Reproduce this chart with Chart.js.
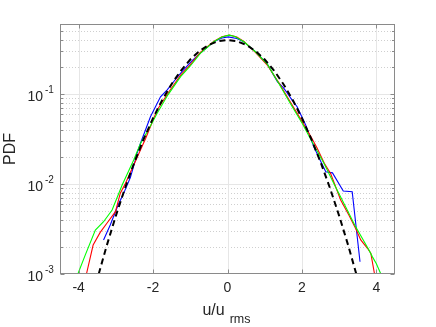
<!DOCTYPE html>
<html>
<head>
<meta charset="utf-8">
<script src="https://cdn.jsdelivr.net/npm/chart.js@4/dist/chart.umd.min.js"></script>
<style>
html,body{margin:0;padding:0;background:#fff;}
#wrap{width:436px;height:327px;}
</style>
</head>
<body>
<div id="wrap"><canvas id="c" width="436" height="327"></canvas></div>
<script>
// ---- data ----
const gaussX = [-3.46,-3.25,-3.0,-2.75,-2.5,-2.25,-2.0,-1.75,-1.5,-1.25,-1.0,-0.75,-0.5,-0.25,0,0.25,0.5,0.75,1.0,1.25,1.5,1.75,2.0,2.25,2.5,2.75,3.0,3.25,3.46];
const gaussY = [0.00100,0.00203,0.00443,0.00909,0.0175,0.0317,0.0540,0.0863,0.1295,0.1826,0.2420,0.3011,0.3521,0.3867,0.3989,0.3867,0.3521,0.3011,0.2420,0.1826,0.1295,0.0863,0.0540,0.0317,0.0175,0.00909,0.00443,0.00203,0.00100];

const blueX = [-3.33,-3.15,-2.92,-2.83,-2.61,-2.50,-2.43,-2.34,-2.07,-1.80,-1.62,-1.40,-1.20,-0.95,-0.73,-0.37,-0.15,0.02,0.25,0.44,0.75,1.07,1.34,1.50,1.61,1.74,1.87,2.10,2.32,2.50,2.64,2.82,3.11,3.35,3.56];
const blueY = [0.00239,0.0035,0.0061,0.0072,0.0118,0.017,0.022,0.0282,0.056,0.093,0.111,0.145,0.182,0.235,0.285,0.38,0.42,0.432,0.415,0.38,0.295,0.215,0.137,0.118,0.102,0.085,0.0723,0.0453,0.026,0.018,0.0137,0.0133,0.00836,0.0082,0.00137];

const redX = [-3.79,-3.61,-3.42,-3.24,-3.01,-2.88,-2.74,-2.48,-2.20,-1.89,-1.60,-1.26,-1.00,-0.73,-0.37,-0.15,0.05,0.25,0.44,0.75,1.07,1.38,1.70,2.01,2.25,2.41,2.60,2.77,3.04,3.26,3.44,3.58,3.76,3.85,3.95];
const redY = [0.00100,0.00210,0.0029,0.00366,0.00493,0.0079,0.0102,0.0177,0.032,0.0665,0.102,0.162,0.212,0.29,0.385,0.433,0.452,0.43,0.385,0.29,0.21,0.133,0.08,0.049,0.033,0.025,0.017,0.0131,0.00664,0.00452,0.00322,0.00239,0.00193,0.0017,0.00100];

const greenX = [-4.02,-3.82,-3.55,-3.33,-3.10,-2.83,-2.52,-2.34,-2.10,-1.89,-1.60,-1.26,-1.00,-0.73,-0.37,-0.15,0.04,0.20,0.44,0.75,1.07,1.38,1.70,2.01,2.30,2.59,2.90,3.20,3.44,3.62,3.80,3.89,4.00,4.12];
const greenY = [0.00100,0.00163,0.00308,0.00381,0.00514,0.00975,0.0185,0.028,0.042,0.0612,0.098,0.156,0.205,0.283,0.381,0.43,0.451,0.435,0.381,0.295,0.215,0.131,0.077,0.047,0.028,0.017,0.0093,0.0053,0.00336,0.0025,0.00185,0.00156,0.0013,0.00100];

const xTicks = [-4,-2,0,2,4];
const xTickLabels = ['-4','-2','0','2','4'];
const yDecades = [-3,-2,-1];
const yTickLabels = ['-3','-2','-1'];
const xTitle = 'u/u';
const xTitleSub = 'rms';
const yTitle = 'PDF';

const pts = (xs, ys) => xs.map((v, i) => ({x: v, y: ys[i]}));
const FONT = '"Liberation Sans", Arial, Helvetica, sans-serif';
const TXT = '#262626';
const AXC = '#8a8a8a';

const matlabAxes = {
  id: 'matlabAxes',
  beforeDatasetsDraw(chart) {
    const {ctx, chartArea: a, scales} = chart;
    const xs = scales.x, ys = scales.y;
    ctx.save();
    ctx.beginPath();
    ctx.rect(a.left, a.top, a.right - a.left, a.bottom - a.top);
    ctx.clip();
    ctx.lineWidth = 1;
    ctx.strokeStyle = '#cfcfcf';
    ctx.setLineDash([1, 2]);
    for (const d of yDecades) {
      for (let m = 2; m <= 9; m++) {
        const v = m * Math.pow(10, d);
        if (v > ys.max) continue;
        const py = Math.round(ys.getPixelForValue(v)) + 0.5;
        ctx.beginPath(); ctx.moveTo(a.left, py); ctx.lineTo(a.right, py); ctx.stroke();
      }
    }
    ctx.setLineDash([]);
    ctx.strokeStyle = '#e6e6e6';
    for (const t of xTicks) {
      const px = Math.round(xs.getPixelForValue(t)) + 0.5;
      ctx.beginPath(); ctx.moveTo(px, a.top); ctx.lineTo(px, a.bottom); ctx.stroke();
    }
    for (const d of yDecades) {
      const py = Math.round(ys.getPixelForValue(Math.pow(10, d))) + 0.5;
      ctx.beginPath(); ctx.moveTo(a.left, py); ctx.lineTo(a.right, py); ctx.stroke();
    }
    ctx.restore();
  },
  afterDraw(chart) {
    const {ctx, chartArea: a, scales} = chart;
    const xs = scales.x, ys = scales.y;
    ctx.save();
    ctx.strokeStyle = AXC;
    ctx.lineWidth = 1;
    const L = Math.round(a.left) + 0.5, R = Math.round(a.right) - 0.5;
    const T = Math.round(a.top) + 0.5, B = Math.round(a.bottom) - 0.5;
    ctx.strokeRect(L, T, R - L, B - T);
    for (const t of xTicks) {
      const px = Math.round(xs.getPixelForValue(t)) + 0.5;
      ctx.beginPath();
      ctx.moveTo(px, B); ctx.lineTo(px, B - 4);
      ctx.moveTo(px, T); ctx.lineTo(px, T + 4);
      ctx.stroke();
    }
    for (const d of yDecades) {
      for (let m = 1; m <= 9; m++) {
        const v = m * Math.pow(10, d);
        if (v > ys.max) continue;
        const len = m === 1 ? 4 : 2.5;
        const py = Math.round(ys.getPixelForValue(v)) + 0.5;
        ctx.beginPath();
        ctx.moveTo(L, py); ctx.lineTo(L + len, py);
        ctx.moveTo(R, py); ctx.lineTo(R - len, py);
        ctx.stroke();
      }
    }
    ctx.fillStyle = TXT;
    ctx.font = '14px ' + FONT;
    ctx.textAlign = 'center';
    ctx.textBaseline = 'middle';
    xTicks.forEach((t, i) => {
      ctx.fillText(xTickLabels[i], xs.getPixelForValue(t), a.bottom + 14);
    });
    yDecades.forEach((d, i) => {
      const py = ys.getPixelForValue(Math.pow(10, d));
      ctx.font = '14px ' + FONT;
      ctx.textAlign = 'right';
      ctx.fillText('10', a.left - 17, py + 3);
      ctx.font = '10px ' + FONT;
      ctx.textAlign = 'left';
      ctx.fillText(yTickLabels[i], a.left - 15, py - 4);
    });
    ctx.textBaseline = 'alphabetic';
    ctx.font = '16px ' + FONT;
    const w1 = ctx.measureText(xTitle).width;
    ctx.font = '12.5px ' + FONT;
    const w2 = ctx.measureText(xTitleSub).width;
    const cx = (a.left + a.right) / 2 - 1;
    const start = cx - (w1 + 5 + w2) / 2;
    ctx.textAlign = 'left';
    ctx.font = '16px ' + FONT;
    ctx.fillText(xTitle, start, 315);
    ctx.font = '12.5px ' + FONT;
    ctx.fillText(xTitleSub, start + w1 + 5, 323);
    ctx.translate(11, (a.top + a.bottom) / 2);
    ctx.rotate(-Math.PI / 2);
    ctx.font = '16px ' + FONT;
    ctx.textAlign = 'center';
    ctx.textBaseline = 'middle';
    ctx.fillText(yTitle, 0, 0);
    ctx.restore();
  }
};

new Chart(document.getElementById('c'), {
  type: 'scatter',
  data: {
    datasets: [
      {label: 'Gaussian', data: pts(gaussX, gaussY), showLine: true, borderColor: '#000', borderWidth: 2, borderDash: [6, 4], pointRadius: 0, fill: false},
      {label: 'green', data: pts(greenX, greenY), showLine: true, borderColor: '#00ff00', borderWidth: 1.1, pointRadius: 0, fill: false},
      {label: 'red', data: pts(redX, redY), showLine: true, borderColor: '#ff0000', borderWidth: 1.1, pointRadius: 0, fill: false},
      {label: 'blue', data: pts(blueX, blueY), showLine: true, borderColor: '#0000ff', borderWidth: 1.1, pointRadius: 0, fill: false}
    ]
  },
  options: {
    responsive: false,
    animation: false,
    devicePixelRatio: 1,
    layout: {padding: {left: 60, right: 41, top: 24, bottom: 53}},
    plugins: {legend: {display: false}, tooltip: {enabled: false}},
    scales: {
      x: {type: 'linear', min: -4.5, max: 4.5,
          ticks: {display: false}, grid: {display: false}, border: {display: false},
          afterFit(s) { s.height = 0; }},
      y: {type: 'logarithmic', min: 0.001, max: 0.6,
          ticks: {display: false}, grid: {display: false}, border: {display: false},
          afterFit(s) { s.width = 0; }}
    }
  },
  plugins: [matlabAxes]
});
</script>
</body>
</html>
